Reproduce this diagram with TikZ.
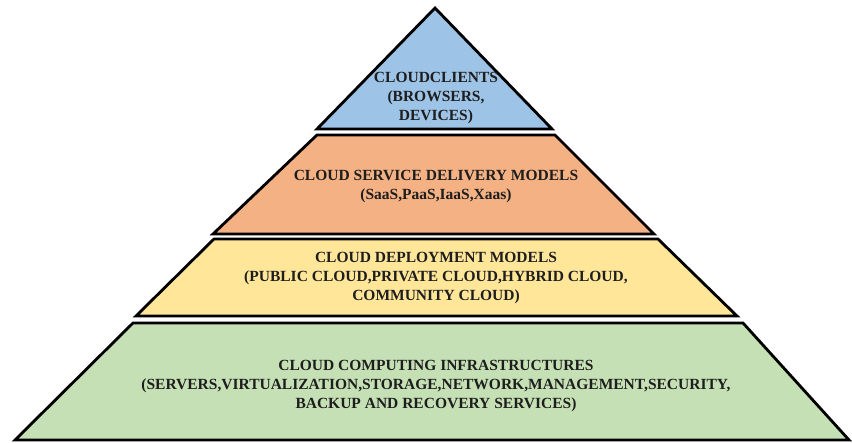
\documentclass[tikz,border=0pt]{standalone}
\usepackage{fontspec}
\setmainfont{Liberation Serif}
\definecolor{lblue}{HTML}{9DC3E6}
\definecolor{lorange}{HTML}{F4B183}
\definecolor{lyellow}{HTML}{FFE699}
\definecolor{lgreen}{HTML}{C5E0B4}
\definecolor{txt}{HTML}{1E1E1E}
\begin{document}
\begin{tikzpicture}[x=1pt,y=-1pt,
  layer/.style={draw=black,line width=2.8pt,line join=miter},
  ltext/.style={text=txt,align=center,font=\fontsize{15.5}{19}\selectfont\bfseries,inner sep=0pt}]
\useasboundingbox (0,0) rectangle (852,443);
% layers
\path[layer,fill=lblue] (435,8) -- (552,129) -- (317,129) -- cycle;
\path[layer,fill=lorange] (317,135) -- (555,135) -- (654,234) -- (213,234) -- cycle;
\path[layer,fill=lyellow] (214,239) -- (658,239) -- (737,316) -- (136,316) -- cycle;
\path[layer,fill=lgreen] (133,323) -- (743,323) -- (849,440) -- (15,440) -- cycle;
% texts
\node[ltext] (clients) at (436,98) {CLOUDCLIENTS\\(BROWSERS,\\DEVICES)};
\node[ltext] (service) at (436,187) {CLOUD SERVICE DELIVERY MODELS\\(SaaS,PaaS,IaaS,Xaas)};
\node[ltext] (deploy) at (436,278) {CLOUD DEPLOYMENT MODELS\\(PUBLIC CLOUD,PRIVATE CLOUD,HYBRID CLOUD,\\COMMUNITY CLOUD)};
\node[ltext] (infra) at (436,386) {CLOUD COMPUTING INFRASTRUCTURES\\(SERVERS,VIRTUALIZATION,STORAGE,NETWORK,MANAGEMENT,SECURITY,\\BACKUP AND RECOVERY SERVICES)};
\end{tikzpicture}
\end{document}
